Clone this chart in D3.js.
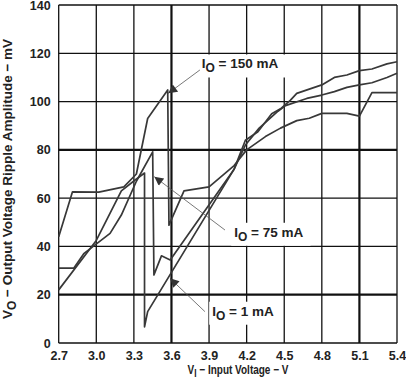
<!DOCTYPE html>
<html>
<head>
<meta charset="utf-8">
<script src="https://cdn.jsdelivr.net/npm/d3@7"></script>
<style>
  body { margin: 0; background: #fff; }
  text { font-family: "Liberation Sans", Arial, sans-serif; font-weight: bold; fill: #222; }
</style>
</head>
<body>
<div id="chart"></div>
<script>
// tick values
const voltTicks = [2.7, 3.0, 3.3, 3.6, 3.9, 4.2, 4.5, 4.8, 5.1, 5.4];
const rippleTicks = [0, 20, 40, 60, 80, 100, 120, 140];
const heavyVolt = [3.6, 5.1];
const heavyRipple = [20, 80];

// IO = 150 mA
const v150 = [2.7, 2.81, 3.02, 3.22, 3.32, 3.41, 3.57, 3.58, 3.70, 3.90, 4.1, 4.2, 4.35, 4.47, 4.6, 4.7, 4.8, 5.0, 5.1, 5.2, 5.4];
const mv150 = [44, 62.6, 62.5, 64.7, 70, 93, 104.8, 48.8, 63, 64.7, 73.5, 80, 85.5, 89, 92.1, 93.1, 95.1, 95.1, 94, 103.7, 103.7];
// IO = 75 mA
const v75 = [2.7, 2.82, 2.9, 3.11, 3.2, 3.32, 3.45, 3.46, 3.52, 3.59, 4.1, 4.19, 4.3, 4.45, 4.51, 4.68, 4.8, 4.9, 5.0, 5.1, 5.2, 5.32, 5.4];
const mv75 = [31, 31, 37, 45.4, 53, 67, 79.2, 28.2, 36.1, 34.4, 72, 82, 89, 96, 98.3, 101.3, 102.7, 104.1, 105.9, 106.9, 107.8, 110, 111.7];
// IO = 1 mA
const v1 = [2.7, 3.0, 3.2, 3.31, 3.385, 3.385, 3.41, 4.1, 4.19, 4.29, 4.4, 4.47, 4.55, 4.6, 4.8, 4.9, 5.0, 5.1, 5.2, 5.32, 5.4];
const mv1 = [22, 42.5, 63, 67.5, 70.4, 6.7, 13, 72, 84, 87.5, 95, 97, 100.6, 103.4, 106.9, 110, 111, 112.8, 113.5, 115.6, 116.5];

// labels and arrows, in data units
const labelNames = ["150 mA", "75 mA", "1 mA"];
const labelPos = [[3.841, 113.7], [4.101, 44.0], [3.925, 11.3]];
const arrowFrom = [[3.827, 113.1], [4.027, 46.8], [3.867, 13.0]];
const arrowTo = [[3.574, 103.4], [3.463, 68.9], [3.588, 26.8]];

const W = 406, H = 387;
const svg = d3.select("#chart").append("svg")
    .attr("width", W)
    .attr("height", H);

const x = d3.scaleLinear().domain([2.7, 5.4]).range([58.7, 397]);
const y = d3.scaleLinear().domain([0, 140]).range([343, 5]);

svg.append("defs").append("marker")
    .attr("id", "arrow")
    .attr("markerUnits", "userSpaceOnUse")
    .attr("viewBox", "0 0 10 10")
    .attr("refX", 10).attr("refY", 5)
    .attr("markerWidth", 11).attr("markerHeight", 9)
    .attr("orient", "auto")
    .append("path")
    .attr("d", "M0,0L10,5L0,10Z")
    .attr("fill", "#333");

// grid
const grid = svg.append("g");
grid.selectAll("line.v").data(voltTicks).enter().append("line")
    .attr("x1", d => x(d)).attr("x2", d => x(d))
    .attr("y1", y(0)).attr("y2", y(140))
    .attr("stroke", "#111")
    .attr("stroke-width", d => heavyVolt.includes(d) ? 2.2 : 1.3);
grid.selectAll("line.h").data(rippleTicks).enter().append("line")
    .attr("y1", d => y(d)).attr("y2", d => y(d))
    .attr("x1", x(2.7)).attr("x2", x(5.4))
    .attr("stroke", "#111")
    .attr("stroke-width", d => heavyRipple.includes(d) ? 2.2 : 1.3);

// tick labels via d3 axes
const xAxis = svg.append("g")
    .attr("transform", `translate(0,${y(0)})`)
    .call(d3.axisBottom(x).tickValues(voltTicks).tickSize(0).tickPadding(8).tickFormat(d3.format(".1f")));
const yAxis = svg.append("g")
    .attr("transform", `translate(${x(2.7)},0)`)
    .call(d3.axisLeft(y).tickValues(rippleTicks).tickSize(0).tickPadding(8));
[xAxis, yAxis].forEach(a => {
    a.select(".domain").remove();
    a.selectAll("text").attr("font-size", 12.5).attr("fill", "#222")
        .style("font-family", "'Liberation Sans', Arial, sans-serif").style("font-weight", "bold");
});

// curves
const line = d3.line().x(d => x(d[0])).y(d => y(d[1]));
const curves = [[v150, mv150], [v75, mv75], [v1, mv1]];
svg.append("g").selectAll("path").data(curves).enter().append("path")
    .attr("d", c => line(d3.zip(c[0], c[1])))
    .attr("fill", "none")
    .attr("stroke", "#383838")
    .attr("stroke-width", 1.7)
    .attr("stroke-linejoin", "round");

// annotations
labelNames.forEach((name, i) => {
    const g = svg.append("g");
    const box = g.append("rect").attr("fill", "#fff");
    const t = g.append("text")
        .attr("x", x(labelPos[i][0]))
        .attr("y", y(labelPos[i][1]))
        .attr("font-size", 13.5);
    t.append("tspan").text("I");
    t.append("tspan").attr("dy", 4).attr("font-size", 12).text("O");
    t.append("tspan").attr("dy", -4).text(" = " + name);
    const bb = t.node().getBBox();
    box.attr("x", bb.x - 3).attr("y", bb.y - 2)
        .attr("width", bb.width + 10).attr("height", bb.height + 4);
    svg.append("line")
        .attr("x1", x(arrowFrom[i][0])).attr("y1", y(arrowFrom[i][1]))
        .attr("x2", x(arrowTo[i][0])).attr("y2", y(arrowTo[i][1]))
        .attr("stroke", "#555")
        .attr("stroke-width", 0.8)
        .attr("marker-end", "url(#arrow)");
});

// axis titles
const xt = svg.append("text")
    .attr("transform", "translate(238,374) scale(0.8,1)")
    .attr("text-anchor", "middle")
    .attr("font-size", 12.5);
xt.append("tspan").text("V");
xt.append("tspan").attr("dy", 3).attr("font-size", 10.5).text("I");
xt.append("tspan").attr("dy", -3).text(" \u2212 Input Voltage \u2212 V");

const yt = svg.append("text")
    .attr("transform", "translate(12,179) rotate(-90)")
    .attr("text-anchor", "middle")
    .attr("font-size", 13.5);
yt.append("tspan").text("V");
yt.append("tspan").attr("dy", 4).attr("font-size", 12).text("O");
yt.append("tspan").attr("dy", -4).text(" \u2212 Output Voltage Ripple Amplitude \u2212 mV");
</script>
</body>
</html>
